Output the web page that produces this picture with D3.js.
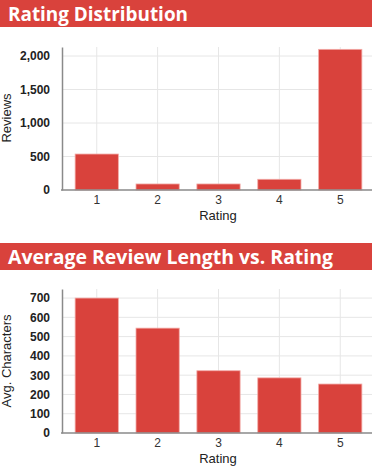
<!DOCTYPE html>
<html>
<head>
<meta charset="utf-8">
<script src="https://d3js.org/d3.v7.min.js"></script>
<style>
  body { margin: 0; background: #fff; }
  .banner text { font-family: "Open Sans", sans-serif; font-weight: 700; fill: #fff; }
  .grid line { stroke: #e6e6e6; stroke-width: 1; }
  .ytick text { font: bold 12px "Liberation Sans", Arial, sans-serif; fill: #222; }
  .xtick text { font: 12px "Liberation Sans Narrow", "Liberation Sans", sans-serif; fill: #333; }
  .atitle { font: 13px "Liberation Sans", Arial, sans-serif; fill: #222; }
</style>
</head>
<body>
<script>
// ratings on the x axis, shared by both charts
var ratings = ["1", "2", "3", "4", "5"];

// chart 1: number of reviews per rating
var reviewCounts = [537, 90, 90, 160, 2100];
var reviewTicks = [0, 500, 1000, 1500, 2000];

// chart 2: average review length (characters) per rating
var avgChars = [700, 544, 323, 286, 254];
var charTicks = [0, 100, 200, 300, 400, 500, 600, 700];

var width = 372, height = 475;
var red = "#d9423c";

var svg = d3.select("body").append("svg")
    .attr("width", width)
    .attr("height", height);

function drawChart(opt) {
    var g = svg.append("g");

    // title banner
    var banner = g.append("g").attr("class", "banner");
    banner.append("rect")
        .attr("x", 0).attr("y", opt.bannerY)
        .attr("width", width).attr("height", 27)
        .attr("fill", red);
    banner.append("text")
        .attr("x", 8).attr("y", opt.bannerY + 21)
        .attr("font-size", 20)
        .attr("textLength", opt.titleLen)
        .attr("lengthAdjust", "spacingAndGlyphs")
        .text(opt.title);

    var x = d3.scaleBand()
        .domain(ratings)
        .range([66, 371])
        .paddingInner(0.29)
        .paddingOuter(0.15);

    var y = d3.scaleLinear()
        .domain([0, opt.yMax])
        .range([opt.bottom, opt.top]);

    // horizontal grid
    g.append("g").attr("class", "grid")
        .selectAll("line").data(opt.ticks.slice(1)).enter().append("line")
        .attr("x1", 62).attr("x2", width)
        .attr("y1", function(d) { return y(d); })
        .attr("y2", function(d) { return y(d); });

    // vertical grid at band centres
    g.append("g").attr("class", "grid")
        .selectAll("line").data(ratings).enter().append("line")
        .attr("x1", function(d) { return x(d) + x.bandwidth() / 2; })
        .attr("x2", function(d) { return x(d) + x.bandwidth() / 2; })
        .attr("y1", opt.top).attr("y2", opt.bottom);

    // bars
    g.selectAll("rect.bar")
        .data(opt.values).enter().append("rect")
        .attr("class", "bar")
        .attr("x", function(d, i) { return x(ratings[i]); })
        .attr("width", x.bandwidth())
        .attr("y", function(d) { return y(d); })
        .attr("height", function(d) { return opt.bottom - y(d); })
        .attr("fill", red)
        .attr("stroke", "#f2a9a6")
        .attr("stroke-width", 0.8);

    // y axis
    var yAxis = g.append("g")
        .attr("class", "ytick")
        .attr("transform", "translate(62,0)")
        .call(d3.axisLeft(y).tickValues(opt.ticks).tickSize(0).tickPadding(12)
            .tickFormat(d3.format(",")));
    yAxis.select(".domain").attr("stroke", "#8a8a8a").attr("stroke-width", 1.5);

    // x axis
    var xAxis = g.append("g")
        .attr("class", "xtick")
        .attr("transform", "translate(0," + opt.bottom + ")")
        .call(d3.axisBottom(x).tickSize(0).tickPadding(5));
    xAxis.select(".domain").remove();
    g.append("line")
        .attr("x1", 61).attr("x2", width)
        .attr("y1", opt.bottom).attr("y2", opt.bottom)
        .attr("stroke", "#8a8a8a").attr("stroke-width", 1.5);

    // axis titles
    g.append("text").attr("class", "atitle")
        .attr("x", 218).attr("y", opt.bottom + 30)
        .attr("text-anchor", "middle")
        .text("Rating");
    g.append("text").attr("class", "atitle")
        .attr("transform", "translate(11," + opt.yTitleY + ") rotate(-90)")
        .attr("text-anchor", "middle")
        .text(opt.yTitle);
}

drawChart({
    title: "Rating Distribution", titleLen: 180, bannerY: 0,
    values: reviewCounts, ticks: reviewTicks, yMax: 2135,
    top: 47, bottom: 190, yTitle: "Reviews", yTitleY: 118
});

drawChart({
    title: "Average Review Length vs. Rating", titleLen: 325, bannerY: 243,
    values: avgChars, ticks: charTicks, yMax: 747,
    top: 289, bottom: 433, yTitle: "Avg. Characters", yTitleY: 361
});
</script>
</body>
</html>
